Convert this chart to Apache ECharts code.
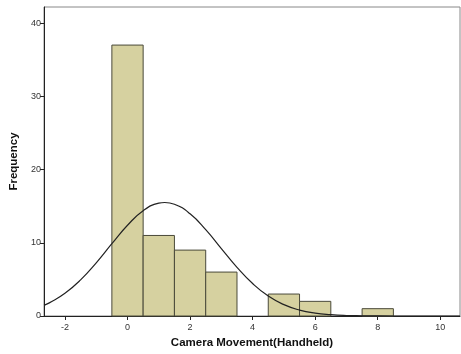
<!DOCTYPE html>
<html>
<head>
<meta charset="utf-8">
<script src="https://cdn.jsdelivr.net/npm/echarts@6/dist/echarts.min.js"></script>
<style>html,body{margin:0;padding:0;background:#fff}#c{width:461px;height:354px}</style>
</head>
<body>
<div id="c"></div>
<script>
// Histogram bins (bin centre) and frequencies
var binCenters = [0, 1, 2, 3, 5, 6, 8];
var frequencies = [37, 11, 9, 6, 3, 2, 1];
// Normal curve
var curveX = [-2.67, -2.5, -2, -1.5, -1, -0.5, 0, 0.5, 1, 1.19, 1.5, 2, 2.5, 3, 3.5, 4, 4.5, 5, 5.5, 6, 6.5, 7, 7.5, 8, 9, 10, 10.63];
var curveY = [1.46, 1.79, 3.10, 4.93, 7.26, 9.87, 12.39, 14.38, 15.41, 15.50, 15.26, 13.96, 11.80, 9.21, 6.64, 4.43, 2.72, 1.55, 0.81, 0.39, 0.18, 0.07, 0.03, 0.01, 0, 0, 0];
var xTicks = [-2, 0, 2, 4, 6, 8, 10];
var yTicks = [0, 10, 20, 30, 40];

var chart = echarts.init(document.getElementById('c'), null, {renderer: 'canvas'});
var font = 'Liberation Sans, Arial, sans-serif';
var barData = binCenters.map(function (c, i) { return [c, frequencies[i]]; });
var curveData = curveX.map(function (x, i) { return [x, curveY[i]]; });

chart.setOption({
  animation: false,
  grid: {left: 43, right: 1, top: 7, bottom: 35, show: true, borderColor: '#888', borderWidth: 1},
  xAxis: {
    type: 'value', min: -2.67, max: 10.63,
    name: 'Camera Movement(Handheld)', nameLocation: 'middle', nameGap: 21,
    nameTextStyle: {fontFamily: font, fontWeight: 'bold', fontSize: 11.5, color: '#111'},
    axisLine: {onZero: false, lineStyle: {color: '#222', width: 1}},
    axisTick: {show: true, length: 4, inside: false, customValues: xTicks, lineStyle: {color: '#222'}},
    axisLabel: {customValues: xTicks, fontFamily: font, fontSize: 9, color: '#333', margin: 7},
    splitLine: {show: false}
  },
  yAxis: {
    type: 'value', min: 0, max: 42.2,
    name: 'Frequency', nameLocation: 'middle', nameGap: 24,
    nameTextStyle: {fontFamily: font, fontWeight: 'bold', fontSize: 11.5, color: '#111'},
    axisLine: {show: true, onZero: false, lineStyle: {color: '#222', width: 1}},
    axisTick: {show: true, length: 4, customValues: yTicks, lineStyle: {color: '#222'}},
    axisLabel: {customValues: yTicks, fontFamily: font, fontSize: 9, color: '#333', margin: 3},
    splitLine: {show: false}
  },
  series: [
    {
      type: 'custom',
      data: barData,
      renderItem: function (params, api) {
        var c = api.value(0), v = api.value(1);
        var p1 = api.coord([c - 0.5, v]);
        var p2 = api.coord([c + 0.5, 0]);
        return {
          type: 'rect',
          shape: {x: p1[0], y: p1[1], width: p2[0] - p1[0], height: p2[1] - p1[1]},
          style: {fill: '#d6d1a0', stroke: '#4a4a3a', lineWidth: 1}
        };
      },
      z: 2
    },
    {
      type: 'line',
      data: curveData,
      smooth: true,
      showSymbol: false,
      lineStyle: {color: '#222', width: 1.2},
      z: 3
    }
  ]
});
</script>
</body>
</html>
